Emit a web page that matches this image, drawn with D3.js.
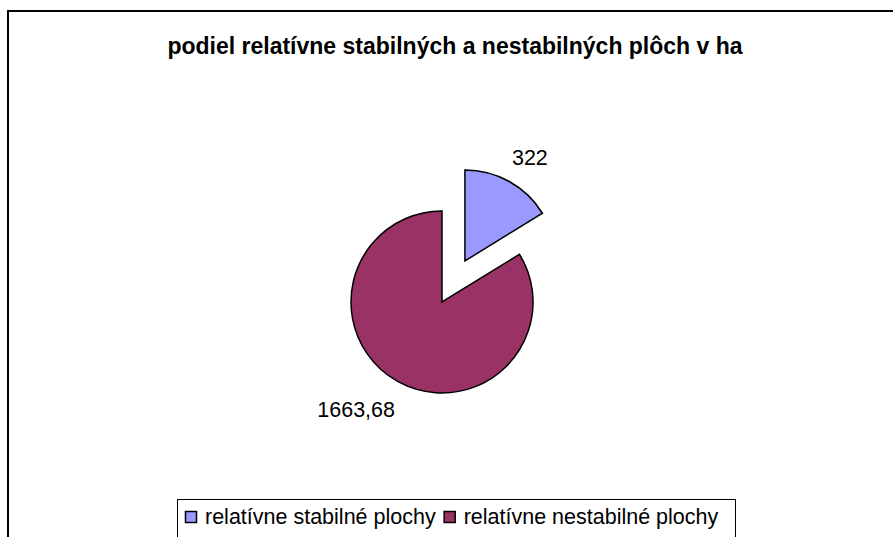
<!DOCTYPE html>
<html>
<head>
<meta charset="utf-8">
<script src="https://cdn.jsdelivr.net/npm/d3@7"></script>
<style>
  body { margin: 0; background: #fff; }
  text { font-family: "Liberation Sans", Arial, sans-serif; }
</style>
</head>
<body>
<div id="main"></div>
<script>
// chart data
var title = "podiel relatívne stabilných a nestabilných plôch v ha";
var categories = ["relatívne stabilné plochy", "relatívne nestabilné plochy"];
var values = [322, 1663.68];
var valueLabels = ["322", "1663,68"];
var colors = ["#9999FF", "#993366"];

var width = 893, height = 537;

var svg = d3.select("#main").append("svg")
  .attr("width", width)
  .attr("height", height);

// chart border (right / bottom edges are cut off)
svg.append("path")
  .attr("d", "M8,537 L8,11 L893,11")
  .style("fill", "none")
  .style("stroke", "#000")
  .style("stroke-width", 2);

svg.append("text")
  .attr("x", 455)
  .attr("y", 54)
  .attr("text-anchor", "middle")
  .style("font-size", "23px")
  .style("font-weight", "bold")
  .text(title);

var cx = 442, cy = 302, radius = 91;
var explode = 47;

var pie = d3.pie().sort(null).value(function(d) { return d; });
var arc = d3.arc().innerRadius(0).outerRadius(radius);
var arcs = pie(values);

var g = svg.append("g").attr("transform", "translate(" + cx + "," + cy + ")");

// first slice is pulled out from the centre
function offset(d, i) {
  var a = (d.startAngle + d.endAngle) / 2;
  var r = i === 0 ? explode : 0;
  return [Math.sin(a) * r, -Math.cos(a) * r];
}

g.selectAll("path.slice")
  .data(arcs)
  .enter().append("path")
  .attr("class", "slice")
  .attr("d", arc)
  .attr("transform", function(d, i) { var o = offset(d, i); return "translate(" + o[0] + "," + o[1] + ")"; })
  .style("fill", function(d, i) { return colors[i]; })
  .style("stroke", "#000")
  .style("stroke-width", 1.5)
  .style("stroke-linejoin", "miter");

// value labels outside the slices
var labelR = 121;
g.selectAll("text.lbl")
  .data(arcs)
  .enter().append("text")
  .attr("class", "lbl")
  .attr("text-anchor", "middle")
  .attr("dy", "0.35em")
  .style("font-size", "21.5px")
  .text(function(d, i) { return valueLabels[i]; })
  .each(function(d, i) {
    var a = (d.startAngle + d.endAngle) / 2;
    var o = offset(d, i);
    var x = o[0] + Math.sin(a) * labelR;
    var y = o[1] - Math.cos(a) * labelR;
    var w = this.getComputedTextLength();
    var side = x >= 0 ? 1 : -1;
    d3.select(this).attr("x", x + side * (w / 2 - 12)).attr("y", y + 2);
  });

// legend
var legend = svg.append("g");
legend.append("rect")
  .attr("x", 177.5)
  .attr("y", 499.5)
  .attr("width", 558)
  .attr("height", 60)
  .style("fill", "#fff")
  .style("stroke", "#000")
  .style("stroke-width", 1);

var lx = 185;
categories.forEach(function(c, i) {
  legend.append("rect")
    .attr("x", lx + 0.5)
    .attr("y", 511.5)
    .attr("width", 11)
    .attr("height", 11)
    .style("fill", colors[i])
    .style("stroke", "#000")
    .style("stroke-width", 1.5);
  var t = legend.append("text")
    .attr("x", lx + 20)
    .attr("y", 524)
    .style("font-size", "21.5px")
    .text(c);
  lx += 20 + t.node().getComputedTextLength() + 8;
});
</script>
</body>
</html>
